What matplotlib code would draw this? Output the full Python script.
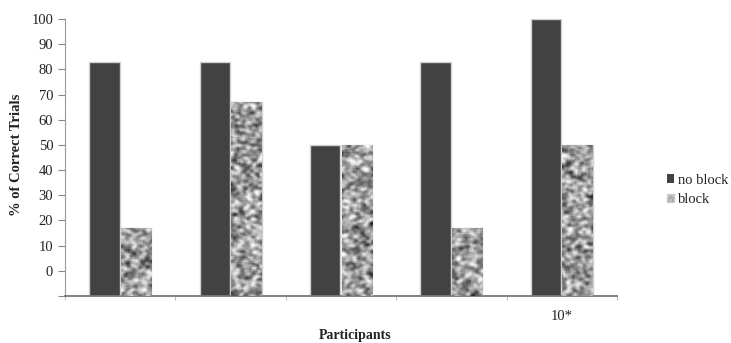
import numpy as np
import matplotlib.pyplot as plt
from matplotlib.patches import Patch

# data
participants = ['', '', '', '', '10*']
no_block = [83, 83, 50, 83, 100]
block = [17, 67, 50, 17, 50]

plt.rcParams['font.family'] = ['Liberation Serif', 'DejaVu Serif']

fig = plt.figure(figsize=(7.31, 3.43), dpi=100)
ax = fig.add_axes([65 / 731, 1 - 296 / 343, (617 - 65) / 731, (296 - 19) / 343])

base = -10
x = np.arange(len(participants))
w = 0.275

bars1 = ax.bar(x - w / 2 - 0.005, np.array(no_block) - base, w, bottom=base,
               color='#424242', edgecolor='#d0d0d0', linewidth=1, zorder=2)
bars2 = ax.bar(x + w / 2 + 0.005, np.array(block) - base, w, bottom=base,
               color='#9a9a9a', edgecolor='#d0d0d0', linewidth=1, zorder=2)

# speckled texture for the "block" bars
rng = np.random.default_rng(3)
for b in bars2:
    x0, y0 = b.get_x(), b.get_y()
    x1, y1 = x0 + b.get_width(), y0 + b.get_height()
    ny = max(int((y1 - y0) * 2.0), 4)
    noise = rng.random((ny + 2, 22))
    noise = (noise[:-2] + noise[1:-1] + noise[2:]) / 3
    noise = (noise[:, :-2] + noise[:, 1:-1] + noise[:, 2:]) / 3
    noise = 0.62 + (noise - 0.5) * 1.8
    im = ax.imshow(noise, cmap='gray', vmin=0, vmax=1, extent=(x0, x1, y0, y1),
                   aspect='auto', interpolation='bicubic', zorder=3)
    im.set_clip_path(b)

ax.set_xlim(-0.5, len(participants) - 0.5)
ax.set_ylim(-10, 100)
ax.set_yticks(np.arange(-10, 101, 10))
ax.set_yticklabels([''] + [str(v) for v in range(0, 101, 10)])
ax.set_xticks(x)
ax.set_xticklabels(participants)
ax.set_xticks(np.arange(-0.5, len(participants), 1), minor=True)
ax.tick_params(axis='x', which='major', length=0, pad=10, labelsize=10.5, labelcolor='#222222')
ax.tick_params(axis='x', which='minor', length=3, color='#aaaaaa', direction='out')
ax.tick_params(axis='y', length=5, color='#888888', labelsize=10.5, labelcolor='#222222')

for s in ['top', 'right']:
    ax.spines[s].set_visible(False)
ax.spines['left'].set_color('#999999')
ax.spines['bottom'].set_color('#777777')
ax.spines['bottom'].set_linewidth(1.3)

fig.text(17 / 731, 1 - 155 / 343, '% of Correct Trials', rotation=90, ha='center',
         va='center', fontsize=10.5, fontweight='bold', color='#222222')
fig.text(355 / 731, 0.022, 'Participants', ha='center', va='center',
         fontsize=10, fontweight='bold', color='#222222')

handles = [Patch(facecolor='#424242', edgecolor='none'),
           Patch(facecolor='#aaaaaa', edgecolor='#cccccc', hatch='....')]
fig.legend(handles, ['no block', 'block'], loc='center left',
           bbox_to_anchor=(654 / 731, 1 - 190 / 343), frameon=False,
           handlelength=0.5, handleheight=0.5, handletextpad=0.25,
           labelspacing=0.45, fontsize=10.5, labelcolor='#222222')

fig.savefig('out.png', dpi=100)
